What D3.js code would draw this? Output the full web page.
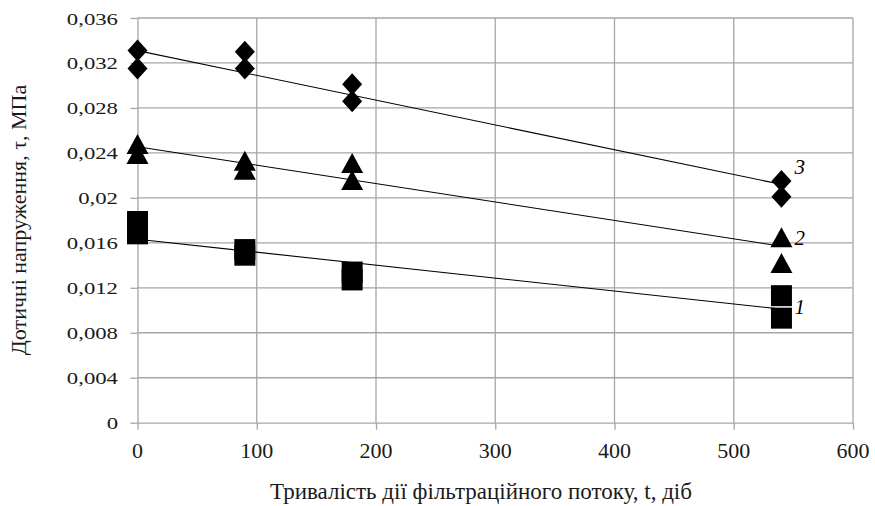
<!DOCTYPE html>
<html>
<head>
<meta charset="utf-8">
<script src="https://cdn.jsdelivr.net/npm/d3@7"></script>
<style>
  html, body { margin: 0; padding: 0; background: #fff; }
</style>
</head>
<body>
<svg id="chart" width="875" height="506"></svg>
<script>
// ---- data ----
const days = [0, 90, 180, 540];
const series3a = [0.0331, 0.0330, 0.0301, 0.0215];
const series3b = [0.0315, 0.0315, 0.0286, 0.0201];
const series2a = [0.0248, 0.0233, 0.0231, 0.0165];
const series2b = [0.0239, 0.0225, 0.0216, 0.0142];
const series1a = [0.0179, 0.0154, 0.0134, 0.0113];
const series1b = [0.0168, 0.0149, 0.0127, 0.0093];
const trendDays = [0, 540];
const trend3 = [0.0331, 0.0212];
const trend2 = [0.02455, 0.0157];
const trend1 = [0.01632, 0.0101];
const xTicks = [0, 100, 200, 300, 400, 500, 600];
const yTicks = [0, 0.004, 0.008, 0.012, 0.016, 0.02, 0.024, 0.028, 0.032, 0.036];
const yTickLabels = ["0", "0,004", "0,008", "0,012", "0,016", "0,02", "0,024", "0,028", "0,032", "0,036"];
const seriesNames = ["1", "2", "3"];
const xTitle = "Тривалість дії фільтраційного потоку, t, діб";
const yTitle = "Дотичні напруження, τ, МПа";

// ---- layout ----
const FONT = "Liberation Serif";
const svg = d3.select("#chart");
const x = d3.scaleLinear().domain([0, 600]).range([137.5, 853]);
const y = d3.scaleLinear().domain([0, 0.036]).range([422.7, 18]);
const grid = "#a6a6a6";

// gridlines
svg.append("g").selectAll("line").data(yTicks.slice(1)).join("line")
  .attr("x1", x(0)).attr("x2", x(600))
  .attr("y1", d => y(d)).attr("y2", d => y(d))
  .attr("stroke", grid).attr("stroke-width", 1.3);
svg.append("g").selectAll("line").data(xTicks.slice(1)).join("line")
  .attr("y1", y(0)).attr("y2", y(0.036))
  .attr("x1", d => x(d)).attr("x2", d => x(d))
  .attr("stroke", grid).attr("stroke-width", 1.3);

// axes (tick marks only)
const gx = svg.append("g").attr("transform", `translate(0,${y(0)})`)
  .call(d3.axisBottom(x).tickValues(xTicks).tickFormat("").tickSize(7).tickSizeOuter(0));
const gy = svg.append("g").attr("transform", `translate(${x(0)},0)`)
  .call(d3.axisLeft(y).tickValues(yTicks).tickFormat("").tickSize(7).tickSizeOuter(0));
[gx, gy].forEach(g => {
  g.selectAll("path, line").attr("stroke", grid).attr("stroke-width", 1.3);
});

// tick labels
svg.append("g").selectAll("g").data(yTicks).join("g")
  .attr("transform", d => `translate(118,${y(d) + 6.5}) scale(1.3,1)`)
  .append("text")
  .attr("text-anchor", "end")
  .attr("font-family", FONT)
  .attr("font-size", 17.5)
  .attr("fill", "#1a1a1a")
  .text((d, i) => yTickLabels[i]);

svg.append("g").selectAll("text").data(xTicks).join("text")
  .attr("x", d => x(d)).attr("y", 458)
  .attr("text-anchor", "middle")
  .attr("font-family", FONT)
  .attr("font-size", 22)
  .attr("fill", "#1a1a1a")
  .text(d => d);

// axis titles
svg.append("text").attr("x", 481).attr("y", 499)
  .attr("text-anchor", "middle").attr("font-family", FONT).attr("font-size", 23).attr("fill", "#1a1a1a")
  .text(xTitle);
svg.append("text")
  .attr("transform", `translate(26,220) rotate(-90)`)
  .attr("text-anchor", "middle").attr("font-family", FONT).attr("font-size", 22).attr("fill", "#1a1a1a")
  .text(yTitle);

// trend lines
const line = d3.line().x(d => x(d[0])).y(d => y(d[1]));
[trend1, trend2, trend3].forEach(t => {
  svg.append("path")
    .attr("d", line(trendDays.map((d, i) => [d, t[i]])))
    .attr("fill", "none").attr("stroke", "#000").attr("stroke-width", 1.1);
});

// markers
const diamond = "M0,-11L10,0L0,11L-10,0Z";
const triangle = "M0,-10L11,10L-11,10Z";
const square = "M-10.5,-10.5H10.5V10.5H-10.5Z";
function drawMarkers(vals, shape) {
  svg.append("g").selectAll("path").data(days.map((d, i) => [d, vals[i]])).join("path")
    .attr("d", shape)
    .attr("transform", d => `translate(${x(d[0])},${y(d[1])})`)
    .attr("fill", "#000");
}
drawMarkers(series3a, diamond);
drawMarkers(series3b, diamond);
drawMarkers(series2a, triangle);
drawMarkers(series2b, triangle);
drawMarkers(series1a, square);
drawMarkers(series1b, square);

// series labels
const labelAnchors = [series1a, series2a, series3a];
const labelOffsets = [18, 8, -7];
labelAnchors.forEach((s, i) => {
  svg.append("text")
    .attr("x", x(540) + 13)
    .attr("y", y(s[3]) + labelOffsets[i])
    .attr("font-family", FONT)
    .attr("font-size", 21).attr("font-style", "italic").attr("fill", "#000")
    .text(seriesNames[i]);
});
</script>
</body>
</html>
